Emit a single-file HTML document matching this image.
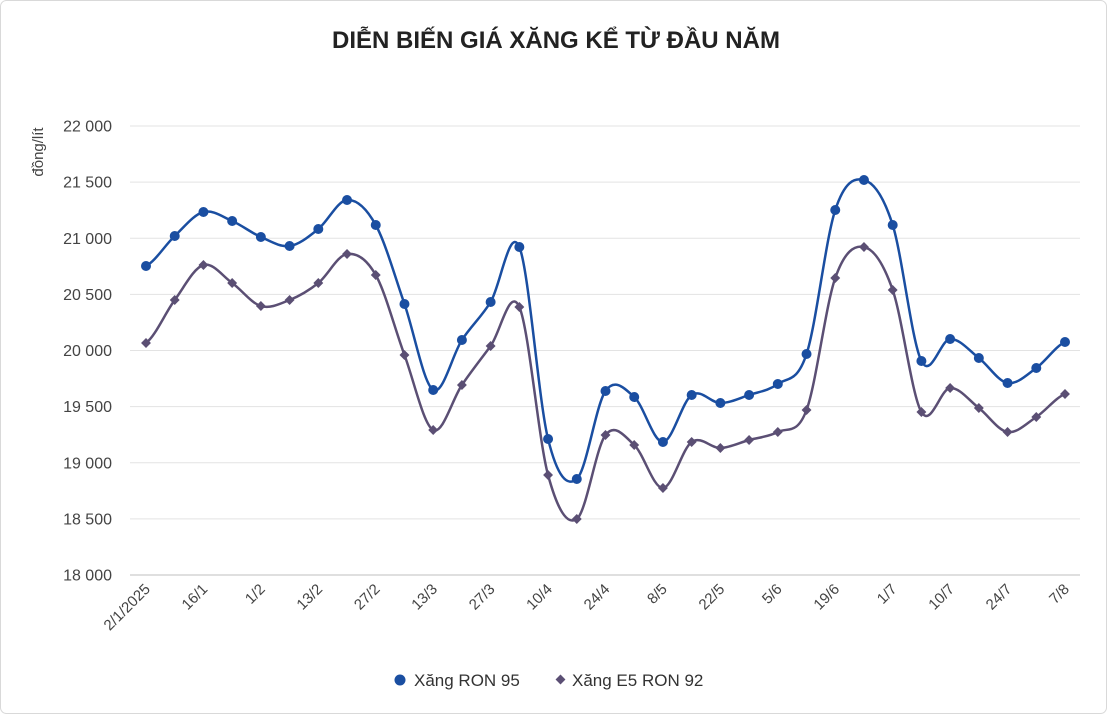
<!DOCTYPE html>
<html><head><meta charset="utf-8"><style>
html,body{margin:0;padding:0;background:#fff;}
svg{display:block;font-family:"Liberation Sans",sans-serif;}
</style></head><body>
<svg id="c" width="1107" height="714" xmlns="http://www.w3.org/2000/svg">
<rect x="0.5" y="0.5" width="1106" height="713" rx="6" fill="#fff" stroke="#d9d9d9"/>
<text x="556" y="48" text-anchor="middle" font-size="24" font-weight="bold" fill="#222">DIỄN BIẾN GIÁ XĂNG KỂ TỪ ĐẦU NĂM</text>
<text transform="translate(43,152) rotate(-90)" text-anchor="middle" font-size="15" fill="#444">đồng/lít</text>
<g id="g"></g>
<g font-size="17" fill="#333">
<circle cx="400" cy="680" r="5.5" fill="#1a4ea1"/><text x="414" y="686">Xăng RON 95</text>
<rect x="557" y="676" width="7" height="7" transform="rotate(45 560.5 679.5)" fill="#5b4f74"/><text x="572" y="686">Xăng E5 RON 92</text>
</g>
</svg>
<script>
var g=document.getElementById('g'),h='';
for(var i=0;i<=8;i++){var y=575-i*56.125;h+='<line x1="130" x2="1080" y1="'+y+'" y2="'+y+'" stroke="'+(i==0?'#bfbfbf':'#e3e3e3')+'" stroke-width="1"/>';
var v=18000+i*500;h+='<text x="112" y="'+(y+5.5)+'" text-anchor="end" font-size="16" fill="#444">'+(Math.floor(v/1000)+' '+('00'+v%1000).slice(-3))+'</text>';}
var L=["2/1/2025","16/1","1/2","13/2","27/2","13/3","27/3","10/4","24/4","8/5","22/5","5/6","19/6","1/7","10/7","24/7","7/8"];
function X(i){return 146+i*(1065-146)/32;}
L.forEach(function(t,k){var x=X(2*k)+5;h+='<text transform="translate('+x+',590) rotate(-45)" text-anchor="end" font-size="15" fill="#444">'+t+'</text>';});
var a=[266,236,212,221,237,246,229,200,225,304,390,340,302,247,439,479,391,397,442,395,403,395,384,354,210,180,225,361,339,358,383,368,342];
var b=[343,300,265,283,306,300,283,254,275,355,430,385,346,307,475,519,435,445,488,442,448,440,432,410,278,247,290,412,388,408,432,417,394];
function path(p){var d='M'+X(0)+','+p[0];for(var i=0;i<p.length-1;i++){var p0=p[Math.max(i-1,0)],p3=p[Math.min(i+2,p.length-1)];var dx=(X(1)-X(0))/3;
var c1=p[i]+(p[i+1]-p0)/6,c2=p[i+1]-(p3-p[i])/6;d+=' C'+(X(i)+dx)+','+c1+' '+(X(i+1)-dx)+','+c2+' '+X(i+1)+','+p[i+1];}return d;}
h+='<path d="'+path(b)+'" fill="none" stroke="#5b4f74" stroke-width="2.5"/>';
h+='<path d="'+path(a)+'" fill="none" stroke="#1a4ea1" stroke-width="2.5"/>';
b.forEach(function(y,i){var x=X(i);h+='<rect x="'+(x-3.5)+'" y="'+(y-3.5)+'" width="7" height="7" transform="rotate(45 '+x+' '+y+')" fill="#5b4f74"/>';});
a.forEach(function(y,i){h+='<circle cx="'+X(i)+'" cy="'+y+'" r="5" fill="#1a4ea1"/>';});
g.innerHTML=h;
</script>
</body></html>
